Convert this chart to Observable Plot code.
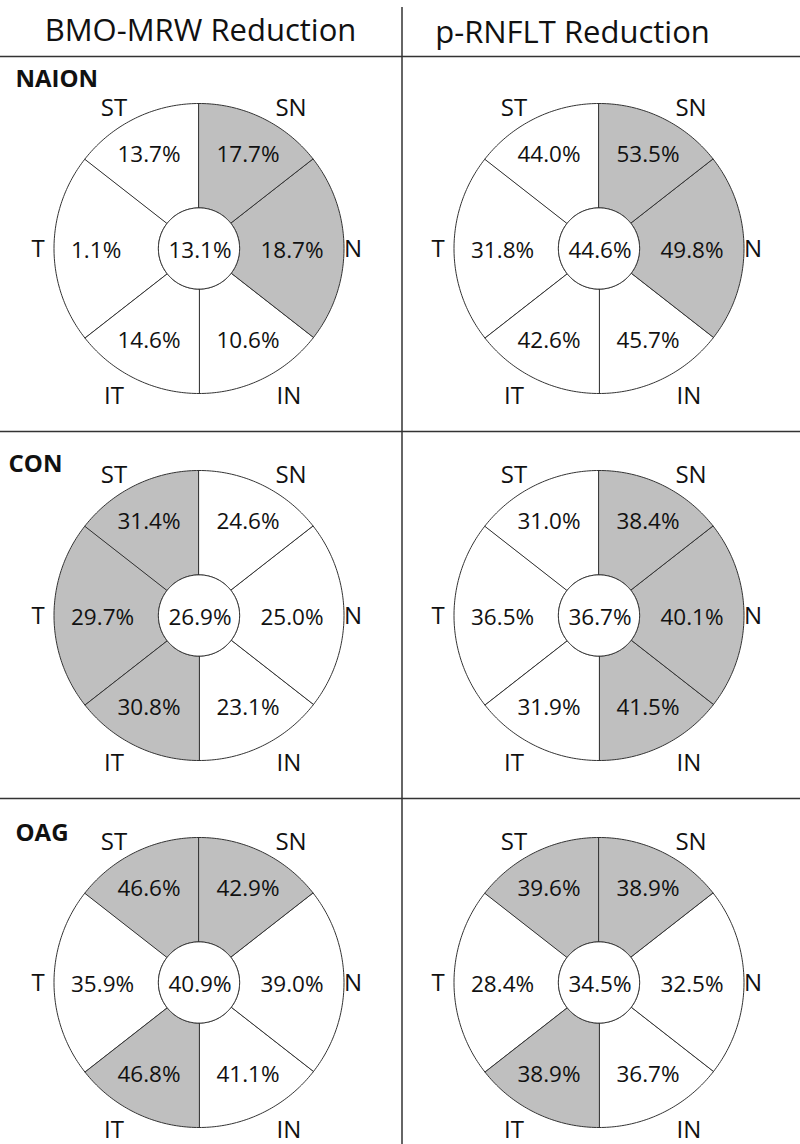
<!DOCTYPE html>
<html><head><meta charset="utf-8">
<script src="https://cdn.jsdelivr.net/npm/d3@7"></script>
<script src="https://cdn.jsdelivr.net/npm/@observablehq/plot@0.6"></script>
<style>
html,body{margin:0;padding:0;background:#fff;}
#chart{width:800px;height:1144px;overflow:hidden;}
</style></head><body><div id="chart"></div>
<script>
// ---------------- data ----------------
const groups = ["NAION", "CON", "OAG"];
const measures = ["BMO-MRW Reduction", "p-RNFLT Reduction"];
const sectorNames = ["ST", "SN", "N", "IN", "IT", "T"];

// sector values (%), in sectorNames order
const bmoNAION  = [13.7, 17.7, 18.7, 10.6, 14.6, 1.1];
const bmoCON    = [31.4, 24.6, 25.0, 23.1, 30.8, 29.7];
const bmoOAG    = [46.6, 42.9, 39.0, 41.1, 46.8, 35.9];
const rnflNAION = [44.0, 53.5, 49.8, 45.7, 42.6, 31.8];
const rnflCON   = [31.0, 38.4, 40.1, 41.5, 31.9, 36.5];
const rnflOAG   = [39.6, 38.9, 32.5, 36.7, 38.9, 28.4];
// global (centre) values, in groups order
const bmoGlobal  = [13.1, 26.9, 40.9];
const rnflGlobal = [44.6, 36.7, 34.5];
// shaded sectors, in groups order
const bmoShaded  = [["SN", "N"], ["ST", "T", "IT"], ["ST", "SN", "IT"]];
const rnflShaded = [["SN", "N"], ["SN", "N", "IN"], ["ST", "SN", "IT"]];

// ---------------- layout ----------------
const U = 145;            // px per unit radius
const R0 = 0.28;          // inner disc radius (units)
const bandW = 400, bandH = 367, cxPx = 198.5, cyPx = 184;
const xDomain = [-cxPx / U, (bandW - cxPx) / U];
const yDomain = [-(bandH - cyPx) / U, cyPx / U];
// sector spans, degrees clockwise from 12 o'clock
const sectorArcs = {ST: [308, 360], SN: [0, 52], N: [52, 128], IN: [128, 180], IT: [180, 232], T: [232, 308]};
// text offsets in px from the disc centre (y downwards)
const nameOffsets  = {ST: [-85, -140], SN: [92, -140], N: [154, 1], IN: [90, 148], IT: [-85, 148], T: [-161, 1]};
const valueOffsets = {ST: [-50, -94], SN: [49, -94], N: [93, 2], IN: [49, 92], IT: [-50, 92], G: [1, 2]};
const tValueOffset = [-128, 2];
const rowLabelOffsets = {NAION: [-183.5, -169.5], CON: [-190.5, -151], OAG: [-183.5, -149.5]};
const headerOffsets = [[1.5, -217], [-26.5, -215]];

const ux = (px) => px / U;
const uy = (py) => -py / U;
const polar = (deg, r) => ({x: r * Math.sin(deg * Math.PI / 180), y: r * Math.cos(deg * Math.PI / 180)});

const valueTable = [[bmoNAION, bmoCON, bmoOAG], [rnflNAION, rnflCON, rnflOAG]];
const globalTable = [bmoGlobal, rnflGlobal];
const shadedTable = [bmoShaded, rnflShaded];

const diagrams = [];
measures.forEach((measure, mi) => groups.forEach((group, gi) => {
  diagrams.push({measure, group, values: valueTable[mi][gi], global: globalTable[mi][gi], shaded: shadedTable[mi][gi]});
}));

// polygons
const polys = [];
for (const d of diagrams) {
  const base = {measure: d.measure, group: d.group};
  sectorNames.forEach((s) => {
    const [a0, a1] = sectorArcs[s];
    const id = `${d.measure}|${d.group}|${s}`;
    const shade = d.shaded.includes(s) ? "shaded" : "plain";
    for (let a = a0; a <= a1; a += 1) polys.push({...base, ...polar(a, 1), id, shade});
    for (let a = a1; a >= a0; a -= 1) polys.push({...base, ...polar(a, R0), id, shade});
  });
  const cid = `${d.measure}|${d.group}|G`;
  for (let a = 0; a < 360; a += 2) polys.push({...base, ...polar(a, R0), id: cid, shade: "plain"});
}

const fmt = (v) => v.toFixed(1) + "%";
const names = [], vals = [], tVals = [];
for (const d of diagrams) {
  sectorNames.forEach((s, i) => {
    const [nx, ny] = nameOffsets[s];
    names.push({measure: d.measure, group: d.group, x: ux(nx), y: uy(ny), text: s});
    if (s === "T") {
      tVals.push({measure: d.measure, group: d.group, x: ux(tValueOffset[0]), y: uy(tValueOffset[1]), text: fmt(d.values[i])});
    } else {
      const [vx, vy] = valueOffsets[s];
      vals.push({measure: d.measure, group: d.group, x: ux(vx), y: uy(vy), text: fmt(d.values[i])});
    }
  });
  const [gx, gy] = valueOffsets.G;
  vals.push({measure: d.measure, group: d.group, x: ux(gx), y: uy(gy), text: fmt(d.global)});
}

const rowLabels = groups.map((g) => ({measure: measures[0], group: g, x: ux(rowLabelOffsets[g][0]), y: uy(rowLabelOffsets[g][1]), text: g}));
const headers = measures.map((m, i) => ({measure: m, group: groups[0], x: ux(headerOffsets[i][0]), y: uy(headerOffsets[i][1]), text: m}));

// separator lines
const hSeps = [];
measures.forEach((m) => groups.slice(0, 2).forEach((g) => hSeps.push({measure: m, group: g, y: yDomain[0]})));
const headerLine = measures.map((m) => ({measure: m, group: groups[0], y: yDomain[1] + 8 / U}));
const vSeps = groups.map((g, i) => ({measure: measures[0], group: g, x: xDomain[1] + 1.5 / U, y1: yDomain[0], y2: i === 0 ? yDomain[1] + 57 / U : yDomain[1]}));

const lineColor = "#333333";
const font = "'Open Sans', sans-serif";

const chart = Plot.plot({
  width: 800,
  height: 1165,
  marginTop: 64, marginRight: 0, marginBottom: 0, marginLeft: 0,
  style: {fontFamily: font, background: "#fff", color: "#111"},
  fx: {domain: measures, padding: 0, axis: null},
  fy: {domain: groups, padding: 0, axis: null},
  x: {domain: xDomain, axis: null},
  y: {domain: yDomain, axis: null},
  color: {domain: ["plain", "shaded"], range: ["#ffffff", "#bfbfbf"]},
  marks: [
    Plot.line(polys, {x: "x", y: "y", z: "id", fx: "measure", fy: "group", fill: "shade", stroke: lineColor, strokeWidth: 1, curve: "linear-closed"}),
    Plot.text(names, {x: "x", y: "y", fx: "measure", fy: "group", text: "text", fontSize: 24, fill: "#111"}),
    Plot.text(vals, {x: "x", y: "y", fx: "measure", fy: "group", text: "text", fontSize: 22.5, fill: "#111"}),
    Plot.text(tVals, {x: "x", y: "y", fx: "measure", fy: "group", text: "text", fontSize: 22.5, fill: "#111", textAnchor: "start"}),
    Plot.text(rowLabels, {x: "x", y: "y", fx: "measure", fy: "group", text: "text", fontSize: 24, fontWeight: "bold", fill: "#111", textAnchor: "start"}),
    Plot.text(headers, {x: "x", y: "y", fx: "measure", fy: "group", text: "text", fontSize: 31, fill: "#111"}),
    Plot.ruleY(hSeps, {y: "y", fx: "measure", fy: "group", stroke: lineColor, strokeWidth: 1.5}),
    Plot.ruleY(headerLine, {y: "y", fx: "measure", fy: "group", stroke: lineColor, strokeWidth: 1.5}),
    Plot.ruleX(vSeps, {x: "x", y1: "y1", y2: "y2", fx: "measure", fy: "group", stroke: lineColor, strokeWidth: 1.5})
  ]
});
document.getElementById("chart").appendChild(chart);
</script>
</body></html>
